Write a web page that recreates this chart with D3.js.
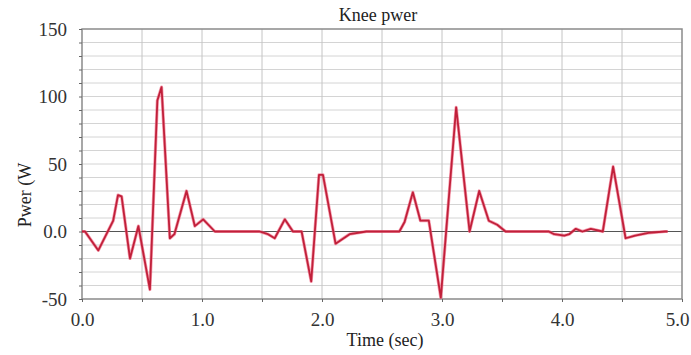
<!DOCTYPE html>
<html>
<head>
<meta charset="utf-8">
<script src="https://cdn.jsdelivr.net/npm/d3@7"></script>
<style>
  body { margin: 0; background: #fff; }
  text { font-family: "Liberation Serif", "DejaVu Serif", serif; }
</style>
</head>
<body>
<div id="chart"></div>
<script>
// Knee power trace
const timeVals = [0, 0.025, 0.136, 0.26, 0.30, 0.33, 0.40, 0.47, 0.566, 0.628, 0.663, 0.732, 0.77, 0.871, 0.94, 1.01, 1.107,
  1.48, 1.55, 1.606, 1.69, 1.758, 1.83, 1.91, 1.975, 2.008, 2.113, 2.23, 2.37,
  2.645, 2.688, 2.757, 2.82, 2.89, 2.99, 3.118, 3.23, 3.31, 3.39, 3.46, 3.53,
  3.89, 3.935, 4.02, 4.06, 4.115, 4.17, 4.24, 4.34, 4.426, 4.53, 4.61, 4.72, 4.86, 4.88];
const powerVals = [0, 0, -14, 8, 27, 26, -20, 4, -43, 97, 107, -5, -2, 30, 4, 9, 0,
  0, -2, -5, 9, 0, 0, -37, 42, 42, -9, -2, 0,
  0, 7, 29, 8, 8, -49, 92, 0, 30, 8, 5, 0,
  0, -2, -3, -2, 2, 0, 2, 0, 48, -5, -3, -1, 0, 0];
const xTicks = [0, 1, 2, 3, 4, 5];
const yTicks = [-50, 0, 50, 100, 150];

const width = 691, height = 355;
const margin = { top: 29, right: 9, bottom: 56, left: 82 };

const svg = d3.select('#chart').append('svg')
  .attr('width', width)
  .attr('height', height);

const x = d3.scaleLinear().domain([0, 5]).range([margin.left, width - margin.right]);
const y = d3.scaleLinear().domain([-50, 150]).range([height - margin.bottom, margin.top]);

// grid
svg.append('g')
  .selectAll('line')
  .data(d3.range(-40, 150, 10))
  .enter().append('line')
  .attr('x1', x(0)).attr('x2', x(5))
  .attr('y1', d => y(d)).attr('y2', d => y(d))
  .attr('stroke', '#d4d4d4')
  .attr('stroke-width', 1);

svg.append('g')
  .selectAll('line')
  .data(d3.range(0.5, 5, 0.5))
  .enter().append('line')
  .attr('y1', y(-50)).attr('y2', y(150))
  .attr('x1', d => x(d)).attr('x2', d => x(d))
  .attr('stroke', '#c4c4c4')
  .attr('stroke-width', 1);

// zero line
svg.append('line')
  .attr('x1', x(0)).attr('x2', x(5))
  .attr('y1', y(0)).attr('y2', y(0))
  .attr('stroke', '#555')
  .attr('stroke-width', 1);

// frame
svg.append('rect')
  .attr('x', x(0)).attr('y', y(150))
  .attr('width', x(5) - x(0)).attr('height', y(-50) - y(150))
  .attr('fill', 'none')
  .attr('stroke', '#8a8a8a')
  .attr('stroke-width', 1.5);

// axes
const yAxis = svg.append('g')
  .attr('transform', `translate(${x(0)},0)`)
  .call(d3.axisLeft(y).tickValues(d3.range(-50, 151, 10)).tickSize(3)
    .tickFormat(d => yTicks.includes(d) ? (d === 0 ? '0.0' : d) : ''));
yAxis.select('.domain').remove();
yAxis.selectAll('line').attr('stroke', '#666');
yAxis.selectAll('text').attr('font-size', 19).attr('fill', '#333').attr('x', -15);

const xAxis = svg.append('g')
  .attr('transform', `translate(0,${y(-50)})`)
  .call(d3.axisBottom(x).tickValues(d3.range(0, 5.01, 0.5)).tickSize(3)
    .tickFormat(d => xTicks.includes(d) ? d3.format('.1f')(d) : ''));
xAxis.select('.domain').remove();
xAxis.selectAll('line').attr('stroke', '#666');
xAxis.selectAll('text').attr('font-size', 19).attr('fill', '#333').attr('y', 27).attr('dy', 0);
// keep the last label inside the window
xAxis.selectAll('text').filter(d => d === 5).attr('text-anchor', 'end').attr('dx', 7);

// data line
const line = d3.line()
  .x((d, i) => x(timeVals[i]))
  .y(d => y(d));

svg.append('path')
  .datum(powerVals)
  .attr('fill', 'none')
  .attr('stroke', '#f05a78')
  .attr('stroke-width', 3.2)
  .attr('stroke-opacity', 0.6)
  .attr('stroke-linejoin', 'round')
  .attr('d', line);

svg.append('path')
  .datum(powerVals)
  .attr('fill', 'none')
  .attr('stroke', '#c0203a')
  .attr('stroke-width', 1.8)
  .attr('stroke-linejoin', 'round')
  .attr('d', line);

// labels
svg.append('text')
  .attr('x', 378).attr('y', 21)
  .attr('text-anchor', 'middle')
  .attr('font-size', 18)
  .attr('fill', '#222')
  .text('Knee pwer');

svg.append('text')
  .attr('x', 385).attr('y', 346)
  .attr('text-anchor', 'middle')
  .attr('font-size', 18)
  .attr('fill', '#222')
  .text('Time (sec)');

svg.append('text')
  .attr('transform', 'translate(31,195) rotate(-90)')
  .attr('text-anchor', 'middle')
  .attr('font-size', 18)
  .attr('fill', '#222')
  .text('Pwer (W');
</script>
</body>
</html>
